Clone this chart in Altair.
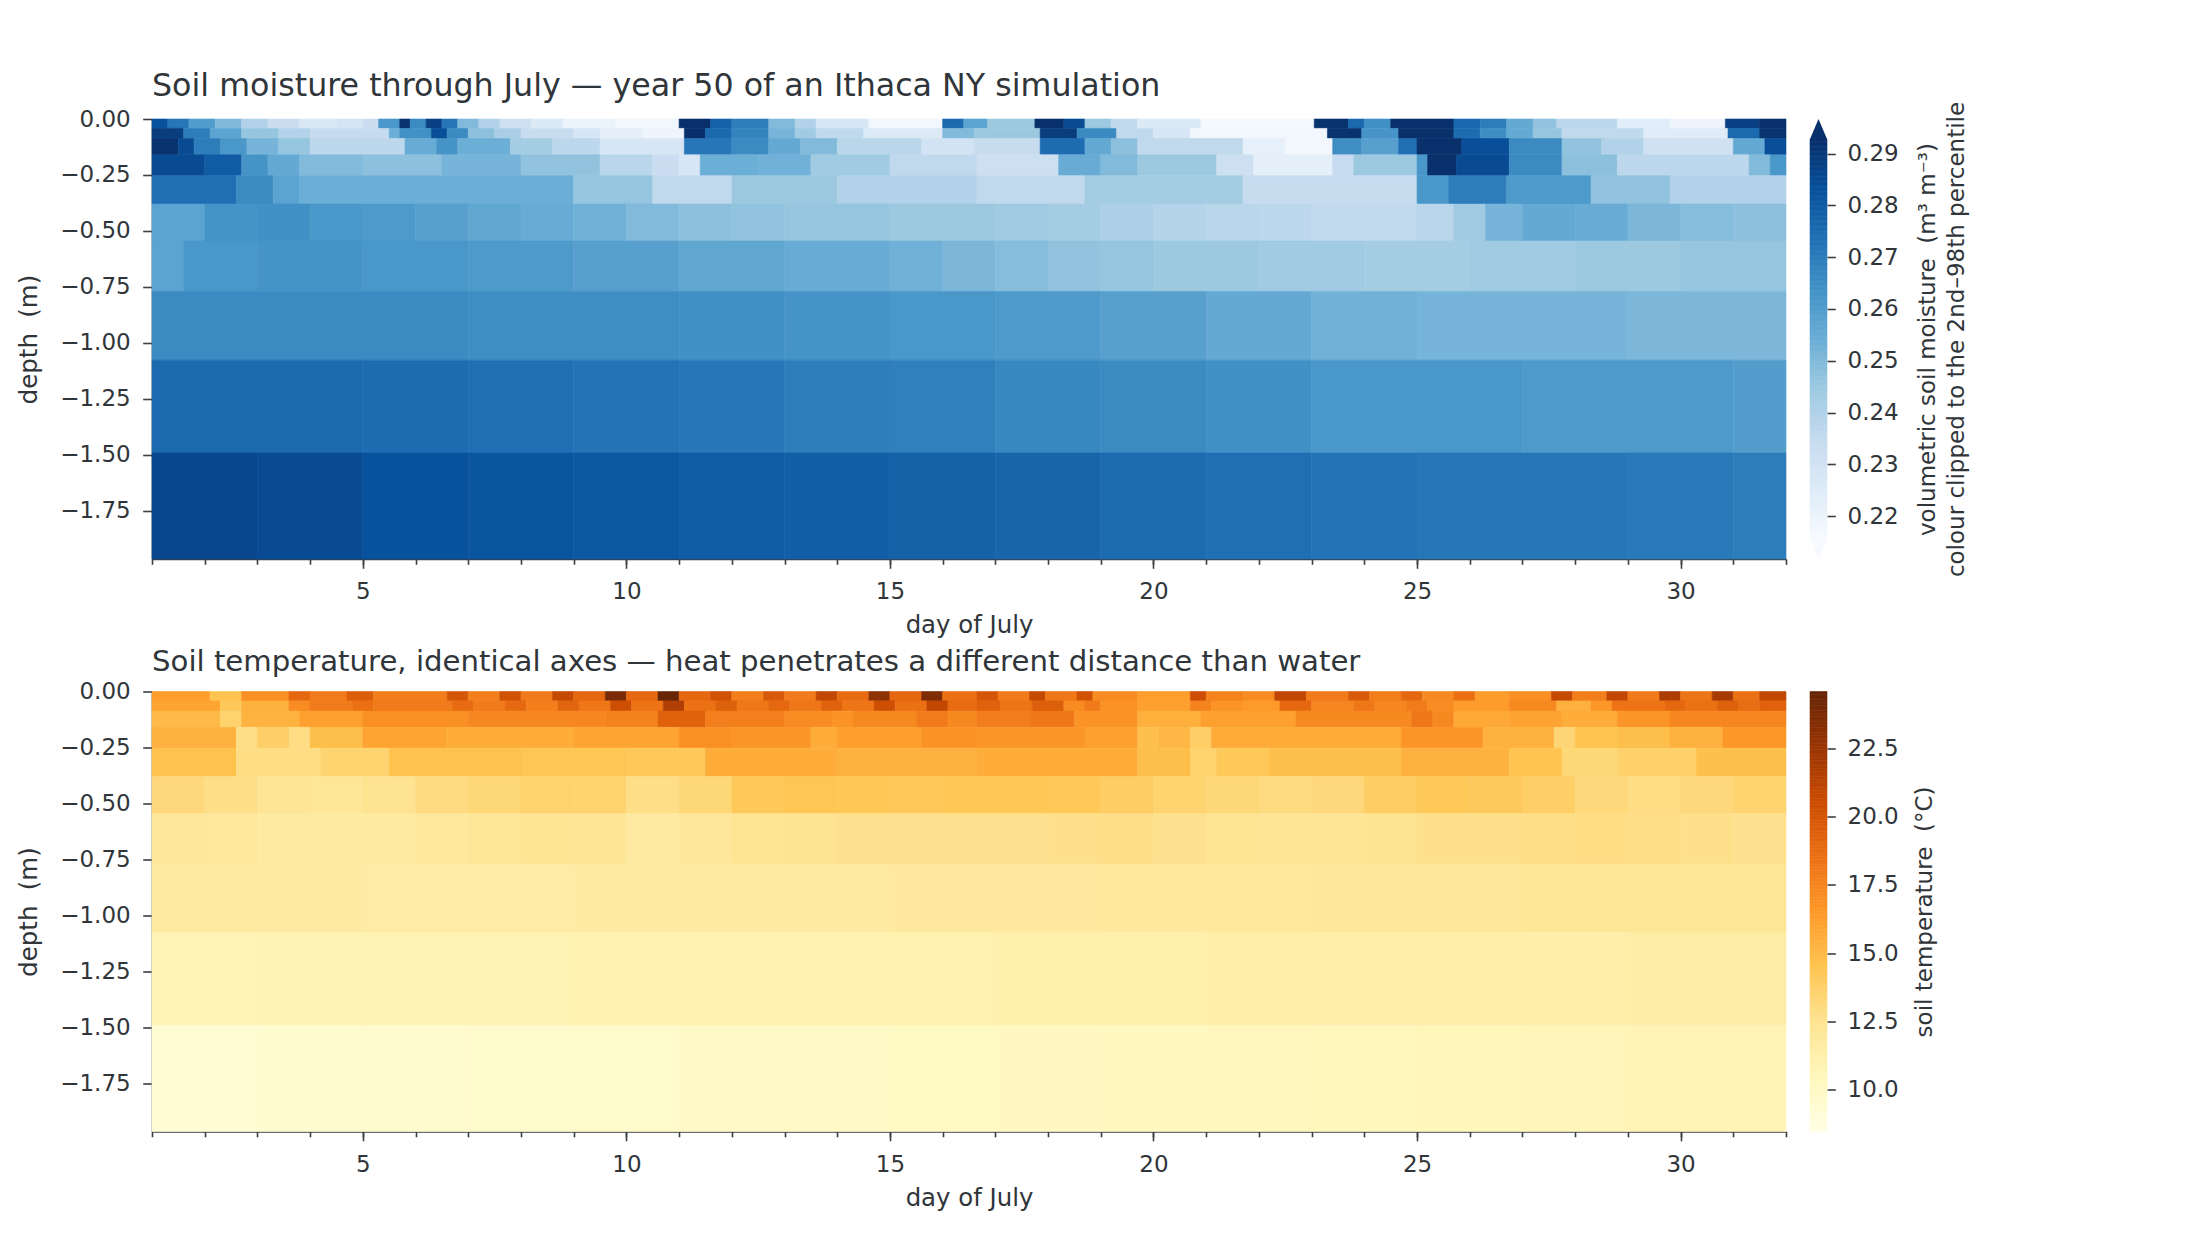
import altair as alt
import numpy as np
import pandas as pd

# ---------------- axes / layout values ----------------
DEPTH_EDGES = [0.0, 0.042, 0.0875, 0.16, 0.253, 0.38, 0.545, 0.77, 1.077, 1.492, 1.965]
DAY_FIRST, DAY_LAST = 1.0, 32.0
DAY_TICKS = [5, 10, 15, 20, 25, 30]
DAY_MINOR = list(range(1, 33))
DEPTH_TICKS = [0.0, -0.25, -0.5, -0.75, -1.0, -1.25, -1.5, -1.75]

# ---------------- soil moisture (m3 m-3): (segment start day, value) per layer ----------------
SM_L1 = [(1.0, 0.283), (1.3, 0.272), (1.7, 0.260), (2.2, 0.250), (2.7, 0.240), (3.2, 0.233), (3.8, 0.227),
         (4.5, 0.229), (5.0, 0.233), (5.3, 0.262), (5.7, 0.292), (5.9, 0.266), (6.2, 0.288), (6.5, 0.272),
         (6.8, 0.250), (7.2, 0.240), (7.6, 0.232), (8.2, 0.226), (8.8, 0.220), (9.8, 0.218), (11.0, 0.294),
         (11.6, 0.278), (12.0, 0.270), (12.7, 0.250), (13.2, 0.240), (13.6, 0.228), (14.6, 0.218), (16.0, 0.276),
         (16.4, 0.258), (16.85, 0.245), (17.75, 0.293), (18.3, 0.285), (18.7, 0.245), (19.2, 0.236), (19.7, 0.226),
         (20.9, 0.217), (23.05, 0.292), (23.7, 0.276), (24.0, 0.264), (24.5, 0.294), (25.7, 0.276), (26.2, 0.270),
         (26.7, 0.256), (27.2, 0.247), (27.65, 0.237), (28.8, 0.224), (29.8, 0.219), (30.85, 0.288), (31.5, 0.293)]
SM_L2 = [(1.0, 0.289), (1.6, 0.270), (2.1, 0.258), (2.7, 0.246), (3.4, 0.240), (4.0, 0.235), (5.5, 0.254),
         (5.7, 0.264), (6.3, 0.284), (6.6, 0.266), (7.0, 0.248), (7.5, 0.242), (8.0, 0.234), (9.0, 0.228),
         (9.5, 0.223), (10.3, 0.219), (11.1, 0.293), (11.5, 0.276), (12.0, 0.268), (12.7, 0.252), (13.2, 0.244),
         (13.6, 0.236), (14.5, 0.226), (16.0, 0.250), (16.6, 0.245), (17.85, 0.289), (18.55, 0.266), (19.3, 0.236),
         (20.0, 0.228), (20.7, 0.218), (23.3, 0.292), (23.95, 0.263), (24.65, 0.294), (25.7, 0.275), (26.2, 0.265),
         (26.7, 0.256), (27.2, 0.246), (27.75, 0.236), (29.3, 0.225), (30.9, 0.276), (31.5, 0.292)]
SM_L3 = [(1.0, 0.292), (1.5, 0.285), (1.8, 0.270), (2.3, 0.262), (2.8, 0.252), (3.4, 0.246), (4.0, 0.237),
         (5.8, 0.255), (6.4, 0.263), (6.8, 0.254), (7.8, 0.243), (8.6, 0.237), (9.5, 0.228), (11.1, 0.272),
         (12.0, 0.266), (12.7, 0.256), (13.3, 0.250), (14.0, 0.238), (15.6, 0.230), (16.6, 0.234), (17.85, 0.275),
         (18.7, 0.256), (19.2, 0.248), (19.7, 0.236), (21.7, 0.222), (22.5, 0.218), (23.4, 0.265), (23.95, 0.259),
         (24.65, 0.274), (25.0, 0.293), (25.85, 0.284), (26.75, 0.266), (27.75, 0.247), (28.5, 0.240),
         (29.3, 0.231), (31.0, 0.256), (31.6, 0.284)]
SM_L4 = [(1.0, 0.285), (2.0, 0.280), (2.7, 0.263), (3.2, 0.256), (3.8, 0.250), (5.0, 0.248), (6.5, 0.252),
         (8.0, 0.247), (9.5, 0.238), (10.5, 0.233), (11.0, 0.228), (11.4, 0.254), (12.5, 0.253), (13.5, 0.244),
         (15.0, 0.236), (16.65, 0.232), (18.2, 0.255), (19.0, 0.250), (19.7, 0.245), (21.2, 0.232), (21.9, 0.223),
         (23.4, 0.235), (23.8, 0.245), (25.0, 0.262), (25.2, 0.293), (25.75, 0.285), (26.75, 0.266),
         (27.75, 0.248), (28.8, 0.237), (31.3, 0.250), (31.7, 0.262)]
SM_L5 = [(1.0, 0.274), (2.6, 0.266), (3.3, 0.258), (3.8, 0.254), (9.0, 0.246), (10.5, 0.236), (12.0, 0.245),
         (14.0, 0.240), (16.65, 0.236), (18.7, 0.243), (21.7, 0.234), (25.0, 0.262), (25.6, 0.270),
         (26.7, 0.261), (28.3, 0.247), (29.8, 0.240)]
SM_L6 = [(1.0, 0.258), (2.0, 0.263), (3.0, 0.264), (4.0, 0.262), (5.0, 0.261), (6.0, 0.259), (7.0, 0.257),
         (8.0, 0.255), (9.0, 0.253), (10.0, 0.250), (11.0, 0.248), (12.0, 0.247), (13.0, 0.246), (15.0, 0.245),
         (17.0, 0.244), (18.0, 0.243), (19.0, 0.241), (20.0, 0.239), (21.0, 0.238), (22.0, 0.237), (23.0, 0.236),
         (25.0, 0.238), (25.7, 0.244), (26.3, 0.252), (27.0, 0.256), (28.0, 0.255), (29.0, 0.251), (30.0, 0.249),
         (31.0, 0.248)]
SM_L7 = [(1.0, 0.258), (1.6, 0.262), (3.0, 0.263), (5.0, 0.262), (7.0, 0.261), (9.0, 0.259), (11.0, 0.257),
         (13.0, 0.255), (15.0, 0.253), (16.0, 0.251), (17.0, 0.249), (18.0, 0.247), (19.0, 0.246), (20.0, 0.245),
         (22.0, 0.244), (24.0, 0.243), (26.0, 0.244), (28.0, 0.245), (30.0, 0.246)]
SM_L8 = [(1.0, 0.266), (7.0, 0.265), (11.0, 0.264), (13.0, 0.263), (15.0, 0.262), (17.0, 0.261), (19.0, 0.259),
         (21.0, 0.256), (23.0, 0.253), (25.0, 0.252), (29.0, 0.251)]
SM_L9 = [(1.0, 0.276), (5.0, 0.275), (7.0, 0.274), (9.0, 0.273), (11.0, 0.272), (13.0, 0.270), (15.0, 0.269),
         (17.0, 0.267), (19.0, 0.266), (21.0, 0.264), (23.0, 0.262), (27.0, 0.261), (31.0, 0.260)]
SM_L10 = [(1.0, 0.286), (3.0, 0.285), (5.0, 0.283), (7.0, 0.282), (9.0, 0.281), (11.0, 0.280), (13.0, 0.279),
          (15.0, 0.278), (17.0, 0.277), (19.0, 0.275), (21.0, 0.274), (23.0, 0.273), (25.0, 0.272),
          (29.0, 0.271), (31.0, 0.270)]
SM_ROWS = [SM_L1, SM_L2, SM_L3, SM_L4, SM_L5, SM_L6, SM_L7, SM_L8, SM_L9, SM_L10]

# ---------------- soil temperature (deg C): (segment start day, value) per layer ----------------
ST_L1 = [(1.0, 16.3), (2.1, 14.5), (2.7, 17.0), (3.6, 19.0), (4.0, 18.0), (4.7, 19.6), (5.2, 17.9), (6.6, 20.0),
         (7.0, 17.8), (7.6, 20.3), (8.0, 18.0), (8.6, 20.8), (9.0, 19.0), (9.6, 23.8), (10.0, 19.0), (10.6, 24.6),
         (11.0, 19.0), (11.6, 20.3), (12.0, 17.8), (12.6, 19.8), (13.0, 18.0), (13.6, 21.0), (14.0, 18.8),
         (14.6, 23.0), (15.0, 19.0), (15.6, 23.6), (16.0, 18.6), (16.65, 20.0), (17.05, 18.0), (17.65, 20.8),
         (17.95, 18.2), (18.55, 20.3), (18.85, 17.2), (19.7, 16.3), (20.7, 20.5), (21.0, 17.6), (21.7, 17.2),
         (22.3, 21.0), (22.9, 18.0), (23.7, 19.8), (24.1, 17.9), (24.7, 19.0), (25.1, 17.3), (25.7, 18.6),
         (26.1, 16.4), (26.75, 17.0), (27.55, 20.8), (27.95, 17.9), (28.6, 21.0), (29.0, 18.0), (29.6, 21.8),
         (30.0, 18.3), (30.6, 22.0), (31.0, 18.6), (31.5, 21.0)]
ST_L2 = [(1.0, 16.0), (2.3, 14.2), (2.7, 15.4), (3.6, 17.2), (4.0, 18.0), (4.8, 18.6), (5.2, 18.0), (6.7, 18.8),
         (7.1, 18.0), (7.7, 18.9), (8.1, 17.8), (8.7, 19.2), (9.1, 18.2), (9.7, 20.4), (10.1, 18.4), (10.7, 21.6),
         (11.1, 18.5), (11.7, 19.4), (12.1, 18.2), (12.7, 19.0), (13.1, 18.2), (13.7, 19.3), (14.1, 18.3),
         (14.7, 20.4), (15.1, 18.6), (15.7, 21.0), (16.1, 18.8), (16.65, 19.3), (17.1, 18.3), (17.7, 19.5),
         (18.3, 17.2), (18.7, 18.0), (19.0, 16.8), (19.7, 16.2), (20.7, 17.6), (21.1, 16.8), (21.7, 16.5),
         (22.4, 19.0), (23.0, 17.5), (23.8, 18.2), (24.2, 17.4), (24.8, 18.0), (25.2, 17.2), (25.7, 16.4),
         (26.75, 17.3), (27.65, 15.4), (28.3, 16.6), (28.7, 18.4), (29.7, 19.0), (30.1, 18.5), (30.7, 19.4),
         (31.1, 18.7), (31.5, 19.3)]
ST_L3 = [(1.0, 15.0), (2.3, 13.6), (2.7, 15.3), (3.8, 16.2), (5.0, 17.0), (7.0, 17.4), (9.6, 17.6), (10.6, 19.3),
         (11.5, 17.8), (13.0, 17.2), (13.9, 16.8), (14.3, 17.3), (15.5, 18.0), (16.1, 17.3), (16.65, 17.9),
         (17.65, 18.2), (18.5, 16.8), (19.7, 15.5), (20.9, 16.2), (22.7, 17.3), (24.9, 18.2), (25.3, 17.3),
         (25.7, 15.8), (26.75, 16.1), (27.75, 15.6), (28.8, 16.7), (29.8, 17.4)]
ST_L4 = [(1.0, 15.4), (2.6, 12.8), (3.0, 13.8), (3.6, 12.9), (4.0, 14.8), (5.0, 16.0), (6.6, 15.6), (9.0, 16.0),
         (11.0, 17.0), (12.0, 16.7), (13.5, 15.6), (14.0, 16.3), (15.6, 16.8), (16.65, 16.7), (18.7, 16.2),
         (19.7, 14.7), (20.1, 15.1), (20.7, 13.8), (21.1, 15.7), (24.7, 16.7), (26.25, 15.4), (27.6, 13.4),
         (28.0, 14.5), (28.8, 14.8), (29.8, 15.4), (30.8, 16.6)]
ST_L5 = [(1.0, 14.6), (2.6, 12.9), (4.2, 13.5), (5.5, 14.6), (8.0, 14.4), (10.0, 14.2), (11.5, 15.6), (14.0, 15.4),
         (16.65, 15.6), (19.7, 14.8), (20.7, 13.6), (21.2, 14.2), (22.2, 14.7), (24.7, 15.4), (26.75, 14.5),
         (27.75, 13.3), (28.8, 13.7), (30.3, 14.7)]
ST_L6 = [(1.0, 13.2), (2.0, 12.8), (3.0, 12.3), (4.0, 12.2), (5.0, 12.5), (6.0, 13.0), (7.0, 13.3), (8.0, 13.6),
         (9.0, 13.5), (10.0, 12.8), (11.0, 13.3), (12.0, 14.2), (13.0, 14.4), (14.0, 14.3), (15.0, 14.2),
         (16.0, 14.3), (18.0, 14.2), (19.0, 13.9), (20.0, 13.5), (21.0, 13.3), (22.0, 13.0), (23.0, 13.2),
         (24.0, 13.9), (25.0, 14.2), (26.0, 14.1), (27.0, 13.8), (28.0, 13.2), (29.0, 12.9), (30.0, 13.2),
         (31.0, 13.5)]
ST_L7 = [(1.0, 12.1), (2.0, 12.0), (3.0, 11.8), (4.0, 11.7), (5.0, 11.8), (6.0, 12.0), (7.0, 12.2), (8.0, 12.4),
         (9.0, 12.3), (10.0, 11.8), (11.0, 12.1), (12.0, 12.4), (13.0, 12.5), (14.0, 12.6), (18.0, 12.7),
         (19.0, 12.8), (20.0, 12.6), (21.0, 12.4), (22.0, 12.3), (24.0, 12.5), (25.0, 12.7), (27.0, 12.8),
         (28.0, 12.9), (29.0, 12.8), (30.0, 12.7), (31.0, 12.6)]
ST_L8 = [(1.0, 11.8), (3.0, 11.7), (5.0, 11.6), (9.0, 11.7), (13.0, 11.8), (15.0, 11.9), (19.0, 12.0),
         (23.0, 12.1), (27.0, 12.2)]
ST_L9 = [(1.0, 10.8), (3.0, 10.9), (9.0, 11.0), (15.0, 11.1), (17.0, 11.2), (21.0, 11.3), (25.0, 11.4),
         (29.0, 11.5)]
ST_L10 = [(1.0, 9.3), (3.0, 9.5), (5.0, 9.6), (7.0, 9.7), (9.0, 9.8), (11.0, 9.9), (13.0, 10.0), (15.0, 10.1),
          (17.0, 10.2), (19.0, 10.3), (21.0, 10.4), (23.0, 10.5), (25.0, 10.6), (27.0, 10.7), (29.0, 10.8)]
ST_ROWS = [ST_L1, ST_L2, ST_L3, ST_L4, ST_L5, ST_L6, ST_L7, ST_L8, ST_L9, ST_L10]

# ---------------- colour scales ----------------
SM_VMIN, SM_VMAX = 0.2156, 0.2928
ST_VMIN, ST_VMAX = 8.48, 24.57
SM_TICKS = [0.22, 0.23, 0.24, 0.25, 0.26, 0.27, 0.28, 0.29]
ST_TICKS = [10.0, 12.5, 15.0, 17.5, 20.0, 22.5]
BLUES = ["#f7fbff", "#deebf7", "#c6dbef", "#9ecae1", "#6baed6", "#4292c6", "#2171b5", "#08519c", "#08306b"]
YLORBR = ["#ffffe5", "#fff7bc", "#fee391", "#fec44f", "#fe9929", "#ec7014", "#cc4c02", "#993404", "#662506"]

TITLE_SM = "Soil moisture through July \u2014 year 50 of an Ithaca NY simulation"
TITLE_ST = "Soil temperature, identical axes \u2014 heat penetrates a different distance than water"
CB_SM = ["volumetric soil moisture\u00a0 (m\u00b3 m\u207b\u00b3)", "colour clipped to the 2nd\u201398th percentile"]
CB_ST = "soil temperature\u00a0 (\u00b0C)"

FONT = "DejaVu Sans"
TXT = "#30353a"
AX = "#3a3f44"
W, H = 1634, 440


def cells(rows):
    recs = []
    for i, segs in enumerate(rows):
        top, bot = -DEPTH_EDGES[i], -DEPTH_EDGES[i + 1]
        for j, (d0, v) in enumerate(segs):
            d1 = segs[j + 1][0] if j + 1 < len(segs) else DAY_LAST
            recs.append(dict(d0=d0, d1=d1, top=top, bot=bot, v=v))
    return pd.DataFrame(recs)


def color_scale(vmin, vmax, colors):
    stops = [float(s) for s in np.linspace(vmin, vmax, len(colors))]
    return alt.Scale(domain=stops, range=colors, interpolate="rgb", clamp=True)


def heatmap(rows, vmin, vmax, colors, title, tsize):
    cs = color_scale(vmin, vmax, colors)
    xs = alt.Scale(domain=[DAY_FIRST, DAY_LAST], nice=False, zero=False)
    ys = alt.Scale(domain=[-DEPTH_EDGES[-1], 0.0], nice=False, zero=False)
    rects = alt.Chart(cells(rows)).mark_rect(strokeWidth=0.6).encode(
        x=alt.X("d0:Q", scale=xs,
                axis=alt.Axis(orient="bottom", values=DAY_TICKS, format="d", tickSize=9.3,
                              labelPadding=12.5, title="day of July", titlePadding=10)),
        x2="d1:Q",
        y=alt.Y("top:Q", scale=ys,
                axis=alt.Axis(values=DEPTH_TICKS, format=".2f", tickSize=9.3, labelPadding=12.5,
                              title="depth\u00a0 (m)", titlePadding=18)),
        y2="bot:Q",
        fill=alt.Fill("v:Q", scale=cs, legend=None),
        stroke=alt.Stroke("v:Q", scale=cs, legend=None),
    )
    minor = alt.Chart(pd.DataFrame({"day": DAY_MINOR})).mark_point(opacity=0).encode(
        x=alt.X("day:Q", scale=xs, title=None,
                axis=alt.Axis(orient="bottom", values=DAY_MINOR, labels=False, tickSize=5.3,
                              domain=False)),
    )
    return alt.layer(rects, minor).resolve_axis(x="independent").properties(
        width=W, height=H,
        title=alt.TitleParams(title, anchor="start", frame="group", fontSize=tsize, font=FONT,
                              color=TXT, fontWeight="normal", baseline="alphabetic", offset=22, dy=42),
    )


def colorbar(vmin, vmax, colors, ticks, fmt, title, extend, tpad):
    cs = color_scale(vmin, vmax, colors)
    n = 160
    e = np.linspace(vmin, vmax, n + 1)
    grad = pd.DataFrame({"lo": e[:-1], "hi": e[1:], "v": (e[:-1] + e[1:]) / 2, "x0": 0.0, "x1": 1.0})
    ext = (vmax - vmin) * 0.05 if extend else 0.0
    ys = alt.Scale(domain=[vmin - ext, vmax + ext], nice=False, zero=False)
    x01 = alt.Scale(domain=[0, 1], nice=False, zero=False)
    ax = alt.Axis(orient="right", values=ticks, format=fmt, tickSize=8.3, labelPadding=11.7, domain=False,
                  title=title, titleAngle=270, titleBaseline="top", titlePadding=tpad,
                  titleFontSize=23, titleLineHeight=29)
    bar = alt.Chart(grad).mark_rect(strokeWidth=0.6).encode(
        x=alt.X("x0:Q", scale=x01, axis=None), x2="x1:Q",
        y=alt.Y("lo:Q", scale=ys, axis=ax), y2="hi:Q",
        fill=alt.Fill("v:Q", scale=cs, legend=None),
        stroke=alt.Stroke("v:Q", scale=cs, legend=None),
    )
    layers = [bar]
    if extend:
        top = pd.DataFrame({"x": [0.0, 0.5, 1.0], "lo": [vmax, vmax + ext, vmax], "hi": [vmax] * 3})
        bot = pd.DataFrame({"x": [0.0, 0.5, 1.0], "lo": [vmin, vmin - ext, vmin], "hi": [vmin] * 3})
        for df, col in ((top, colors[-1]), (bot, colors[0])):
            layers.append(alt.Chart(df).mark_area(color=col).encode(
                x=alt.X("x:Q", scale=x01, axis=None),
                y=alt.Y("lo:Q", scale=ys, axis=ax), y2="hi:Q"))
    return alt.layer(*layers).properties(width=17, height=H)


hm1 = heatmap(SM_ROWS, SM_VMIN, SM_VMAX, BLUES, TITLE_SM, 31.7)
cb1 = colorbar(SM_VMIN, SM_VMAX, BLUES, SM_TICKS, ".2f", CB_SM, True, -11)
hm2 = heatmap(ST_ROWS, ST_VMIN, ST_VMAX, YLORBR, TITLE_ST, 29.2)
cb2 = colorbar(ST_VMIN, ST_VMAX, YLORBR, ST_TICKS, ".1f", CB_ST, False, 15)

chart = alt.concat(hm1, cb1, hm2, cb2, columns=2, spacing={"row": 132.5, "column": 24},
                   bounds="flush").resolve_scale(
    fill="independent", stroke="independent", x="independent", y="independent"
).properties(
    padding={"left": 8, "top": 63, "right": 10, "bottom": 10},
    background="white",
).configure_view(stroke=None).configure_axis(
    labelFont=FONT, labelFontSize=23, labelColor=TXT,
    titleFont=FONT, titleFontSize=24.4, titleFontWeight="normal", titleColor=TXT,
    domainColor=AX, domainWidth=1.6, tickColor=AX, tickWidth=1.6,
    grid=False, labelFlush=False, labelOverlap=False, zindex=1,
)

chart.save("out.html", embed_options={"renderer": "svg", "actions": False})
